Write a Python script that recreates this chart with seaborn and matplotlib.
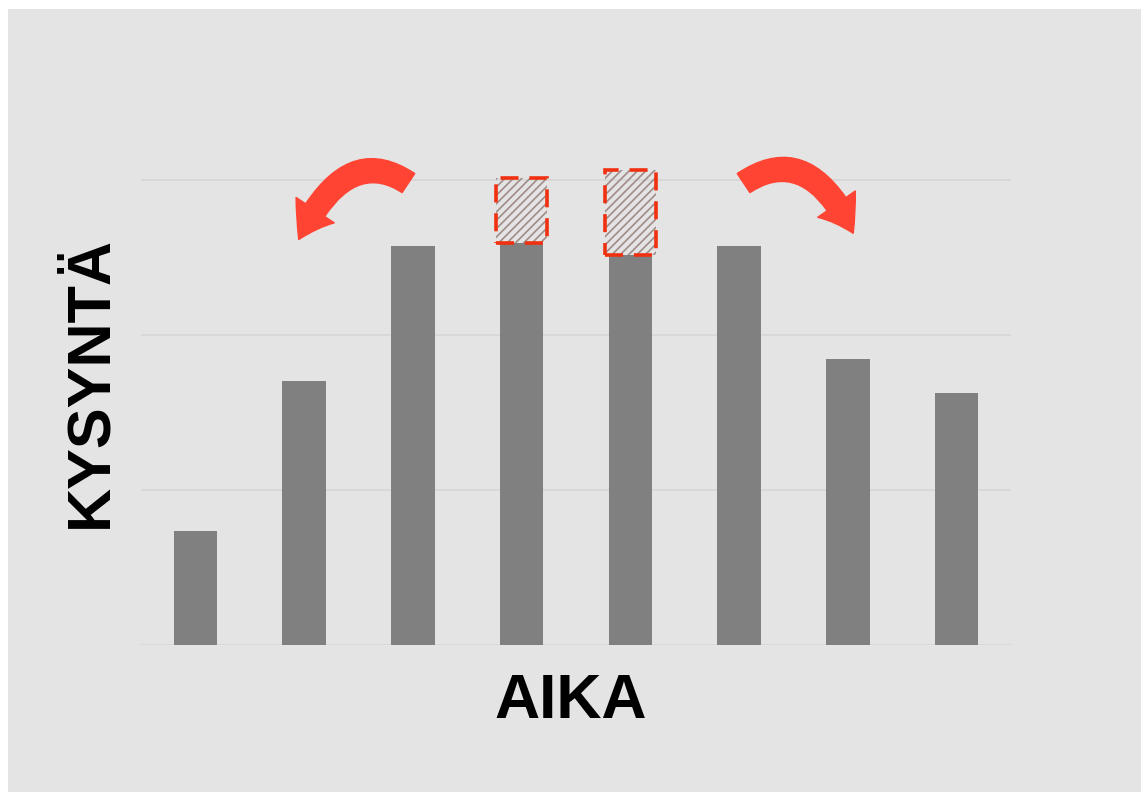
import numpy as np
import pandas as pd
import seaborn as sns
import matplotlib.pyplot as plt
from matplotlib.patches import FancyArrowPatch, Rectangle

periods = ["1", "2", "3", "4", "5", "6", "7", "8"]
demand = [0.735, 1.70, 2.575, 2.595, 2.515, 2.575, 1.845, 1.625]
# shifted demand (hatched boxes on top of bars 4 and 5)
shift_idx = [3, 4]
shift_top = [3.01, 3.065]
y_ticks = [0, 1, 2, 3]

df = pd.DataFrame({"aika": periods, "kysynta": demand})

sns.set_theme(style="whitegrid")
plt.rcParams["font.family"] = ["Liberation Sans", "DejaVu Sans"]
plt.rcParams["hatch.linewidth"] = 1.2

fig = plt.figure(figsize=(11.41, 7.92), dpi=100)
fig.patch.set_facecolor("white")
fig.patches.append(Rectangle((8 / 1141, 0), 1, 1 - 9 / 792, transform=fig.transFigure,
                             facecolor="#e4e4e4", edgecolor="none", zorder=-10))

ax = fig.add_axes([141 / 1141, 147 / 792, 870 / 1141, 511.5 / 792])
ax.set_facecolor("none")

sns.barplot(data=df, x="aika", y="kysynta", color="#808080", saturation=1,
            width=0.4, edgecolor="none", linewidth=0, ax=ax, zorder=2)

# hatched "moved" demand
for i, top in zip(shift_idx, shift_top):
    base = demand[i]
    ax.add_patch(Rectangle((i - 0.235, base), 0.47, top - base, facecolor="none",
                           edgecolor="#a08c88", hatch="////", linewidth=0, zorder=3))
    ax.add_patch(Rectangle((i - 0.235, base), 0.47, top - base, facecolor="none",
                           edgecolor="#f03010", linestyle=(0, (5, 3)), linewidth=2.6,
                           zorder=3))

red = "#ff4433"
style = "simple,head_width=1.5,head_length=1.1,tail_width=0.75"
left = FancyArrowPatch((1.98, 2.97), (0.94, 2.60),
                       connectionstyle="angle3,angleA=145,angleB=65",
                       arrowstyle=style, mutation_scale=22, color=red, zorder=4,
                       clip_on=False)
right = FancyArrowPatch((5.02, 2.97), (6.06, 2.64),
                        connectionstyle="angle3,angleA=35,angleB=115",
                        arrowstyle=style, mutation_scale=22, color=red, zorder=4,
                        clip_on=False)
ax.add_patch(left)
ax.add_patch(right)

ax.set_ylim(0, 3.3)
ax.set_xlim(-0.5, 7.5)
ax.set_yticks(y_ticks)
ax.set_yticklabels([])
ax.set_xticks([])
ax.grid(axis="y", color="#d6d6d6", linewidth=1.2)
ax.grid(axis="x", visible=False)
for s in ax.spines.values():
    s.set_visible(False)
ax.set_xlabel("")
ax.set_ylabel("")

fig.text(571 / 1141, 1 - 701 / 792, "AIKA", fontsize=45, fontweight="bold",
         ha="center", va="center", color="black")
fig.text(91 / 1141, 1 - 382 / 792, "KYSYNTÄ", fontsize=44, fontweight="bold",
         ha="center", va="center", rotation=90, color="black")

fig.savefig("out.png", dpi=100)
